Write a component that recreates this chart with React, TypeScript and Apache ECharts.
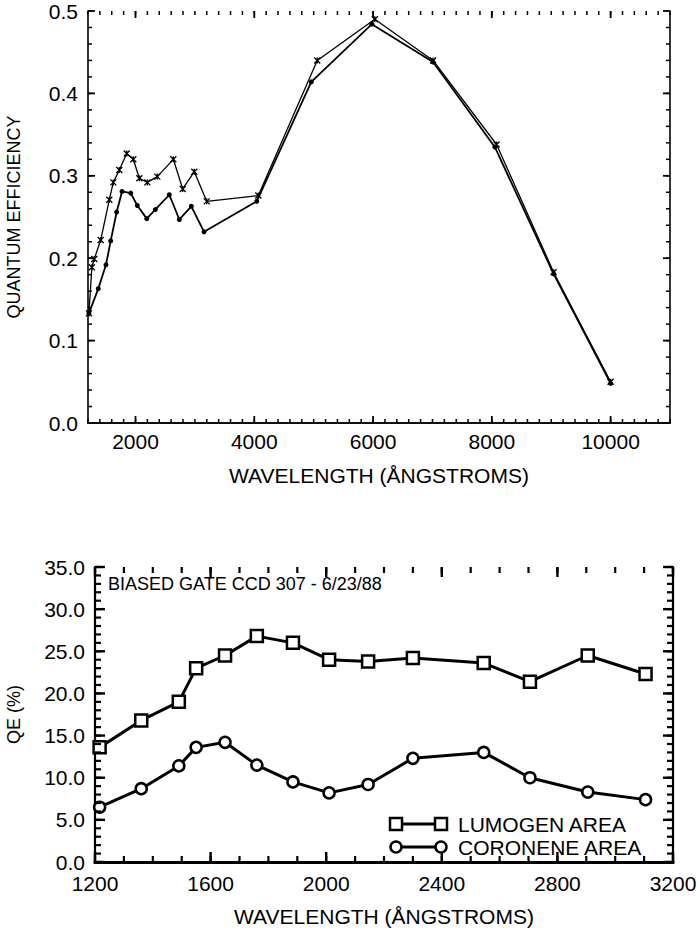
import React, { useEffect, useRef } from "react";
import * as echarts from "echarts";

// ---------- Top panel data (quantum efficiency vs wavelength) ----------
const upperWavelengths = [1216, 1265, 1305, 1414, 1559, 1626, 1727, 1852, 1963, 2064, 2199, 2367, 2637, 2795, 2990, 3199, 4068, 5060, 6030, 7010, 8080, 9040, 10000];
const upperQE = [0.133, 0.189, 0.199, 0.222, 0.271, 0.292, 0.307, 0.327, 0.320, 0.297, 0.292, 0.299, 0.320, 0.284, 0.305, 0.269, 0.276, 0.440, 0.490, 0.440, 0.338, 0.183, 0.050];
const lowerWavelengths = [1216, 1373, 1503, 1582, 1683, 1773, 1919, 2030, 2189, 2333, 2569, 2738, 2940, 3154, 4041, 4960, 5980, 7010, 8050, 9040, 10000];
const lowerQE = [0.133, 0.163, 0.192, 0.221, 0.256, 0.281, 0.279, 0.264, 0.248, 0.259, 0.277, 0.247, 0.263, 0.232, 0.269, 0.414, 0.484, 0.438, 0.335, 0.181, 0.048];

// ---------- Bottom panel data (QE %) ----------
const ccdWavelengths = [1216, 1360, 1490, 1550, 1650, 1760, 1885, 2010, 2145, 2300, 2545, 2705, 2905, 3105];
const lumogenQE = [13.6, 16.8, 19.0, 23.0, 24.5, 26.8, 26.0, 24.0, 23.8, 24.2, 23.6, 21.4, 24.5, 22.3];
const coroneneQE = [6.5, 8.7, 11.4, 13.6, 14.2, 11.5, 9.5, 8.2, 9.2, 12.3, 13.0, 10.0, 8.3, 7.4];

// ---------- Axis scales and tick steps ----------
const topXRange = [1200, 11000];
const topYRange = [0, 0.5];
const botXRange = [1200, 3200];
const botYRange = [0, 35];
const topXMajor = [2000, 4000, 6000, 8000, 10000];
const topXMinorStep = 200;
const topYMajorStep = 0.1;
const topYMinorStep = 0.02;
const botXMajorStep = 400;
const botXMinorStep = 100;
const botYMajorStep = 5;
const botYMinorStep = 1;

const FONT = "'Liberation Sans', Arial, Helvetica, sans-serif";
const FS = 21;
const FS_SMALL = 18;

const zip = (xs: number[], ys: number[]) => xs.map((x, i) => [x, ys[i]]);

// list of tick values from lo to hi by step (axis decoration only)
const steps = (lo: number, hi: number, step: number) => {
  const out: number[] = [];
  const n = Math.round((hi - lo) / step);
  for (let i = 0; i <= n; i++) out.push(Math.round((lo + i * step) * 1e6) / 1e6);
  return out;
};

// tick rows: [value, isY (0/1), length, width]
const buildTicks = (
  xMinor: number[], xMajor: number[], yMinor: number[], yMajor: number[],
  minorLen: number, majorLen: number, minorW: number, majorW: number
) => [
  ...xMinor.map((v) => [v, 0, minorLen, minorW]),
  ...xMajor.map((v) => [v, 0, majorLen, majorW]),
  ...yMinor.map((v) => [v, 1, minorLen, minorW]),
  ...yMajor.map((v) => [v, 1, majorLen, majorW]),
];

const tickRenderer = (xMin: number, yMin: number) => (params: any, api: any) => {
  const v = api.value(0);
  const isY = api.value(1);
  const len = api.value(2);
  const w = api.value(3);
  const cs = params.coordSys;
  const style = { stroke: "#000", lineWidth: w, fill: "none" };
  if (!isY) {
    const px = api.coord([v, yMin])[0];
    return {
      type: "group",
      children: [
        { type: "line", shape: { x1: px, y1: cs.y + cs.height, x2: px, y2: cs.y + cs.height - len }, style },
        { type: "line", shape: { x1: px, y1: cs.y, x2: px, y2: cs.y + len }, style },
      ],
    };
  }
  const py = api.coord([xMin, v])[1];
  return {
    type: "group",
    children: [
      { type: "line", shape: { x1: cs.x, y1: py, x2: cs.x + len, y2: py }, style },
      { type: "line", shape: { x1: cs.x + cs.width, y1: py, x2: cs.x + cs.width - len, y2: py }, style },
    ],
  };
};

export default function App() {
  const ref = useRef<HTMLDivElement>(null);

  useEffect(() => {
    if (!ref.current) return;
    const chart = echarts.init(ref.current, null, { renderer: "svg" });

    const txt = { color: "#000", fontFamily: FONT, fontSize: FS };
    const txtSmall = { color: "#000", fontFamily: FONT, fontSize: FS_SMALL };
    const gridBase = { outerBoundsMode: "none", containLabel: false, show: false };
    const G0 = { ...gridBase, left: 88, top: 11, width: 582, height: 412 };
    const G1 = { ...gridBase, left: 95, top: 567, width: 578, height: 295 };

    const noTick = { show: false };
    const noLabel = { show: false };
    const line0 = { show: true, lineStyle: { color: "#000", width: 1.6 } };
    const line1x = { show: true, lineStyle: { color: "#000", width: 3 } };
    const line1y = { show: true, lineStyle: { color: "#000", width: 2.2 } };

    const topTicks = buildTicks(
      steps(topXRange[0], topXRange[1], topXMinorStep), topXMajor,
      steps(topYRange[0], topYRange[1], topYMinorStep), steps(topYRange[0], topYRange[1], topYMajorStep),
      4, 7, 1.5, 1.8
    );
    const botTicks = buildTicks(
      steps(botXRange[0], botXRange[1], botXMinorStep), steps(botXRange[0], botXRange[1], botXMajorStep),
      steps(botYRange[0], botYRange[1], botYMinorStep), steps(botYRange[0], botYRange[1], botYMajorStep),
      6, 10, 2.2, 2.4
    );

    const option: any = {
      animation: false,
      backgroundColor: "#fff",
      grid: [G0, G1],
      xAxis: [
        {
          type: "value",
          gridIndex: 0,
          position: "bottom",
          min: topXRange[0],
          max: topXRange[1],
          interval: topXMinorStep,
          splitLine: { show: false },
          axisLine: line0,
          axisTick: noTick,
          axisLabel: {
            ...txt,
            show: true,
            margin: 8,
            formatter: (v: number) => (topXMajor.includes(v) ? String(v) : ""),
          },
          name: "WAVELENGTH (ÅNGSTROMS)",
          nameLocation: "middle",
          nameGap: 42,
          nameTextStyle: txt,
        },
        {
          type: "value",
          gridIndex: 0,
          position: "top",
          min: topXRange[0],
          max: topXRange[1],
          splitLine: { show: false },
          axisLine: line0,
          axisTick: noTick,
          axisLabel: noLabel,
        },
        {
          type: "value",
          gridIndex: 1,
          position: "bottom",
          min: botXRange[0],
          max: botXRange[1],
          interval: botXMajorStep,
          splitLine: { show: false },
          axisLine: line1x,
          axisTick: noTick,
          axisLabel: { ...txt, show: true, margin: 11, formatter: (v: number) => String(v) },
          name: "WAVELENGTH (ÅNGSTROMS)",
          nameLocation: "middle",
          nameGap: 44,
          nameTextStyle: txt,
        },
        {
          type: "value",
          gridIndex: 1,
          position: "top",
          min: botXRange[0],
          max: botXRange[1],
          splitLine: { show: false },
          axisLine: line1x,
          axisTick: noTick,
          axisLabel: noLabel,
        },
      ],
      yAxis: [
        {
          type: "value",
          gridIndex: 0,
          position: "left",
          min: topYRange[0],
          max: topYRange[1],
          interval: topYMajorStep,
          splitLine: { show: false },
          axisLine: line0,
          axisTick: noTick,
          axisLabel: { ...txt, show: true, margin: 10, formatter: (v: number) => v.toFixed(1) },
          name: "QUANTUM EFFICIENCY",
          nameLocation: "middle",
          nameRotate: 90,
          nameGap: 65,
          nameTextStyle: txtSmall,
        },
        {
          type: "value",
          gridIndex: 0,
          position: "right",
          min: topYRange[0],
          max: topYRange[1],
          splitLine: { show: false },
          axisLine: line0,
          axisTick: noTick,
          axisLabel: noLabel,
        },
        {
          type: "value",
          gridIndex: 1,
          position: "left",
          min: botYRange[0],
          max: botYRange[1],
          interval: botYMajorStep,
          splitLine: { show: false },
          axisLine: line1y,
          axisTick: noTick,
          axisLabel: { ...txt, show: true, margin: 10, formatter: (v: number) => v.toFixed(1) },
          name: "QE (%)",
          nameLocation: "middle",
          nameRotate: 90,
          nameGap: 72,
          nameTextStyle: txtSmall,
        },
        {
          type: "value",
          gridIndex: 1,
          position: "right",
          min: botYRange[0],
          max: botYRange[1],
          splitLine: { show: false },
          axisLine: line1y,
          axisTick: noTick,
          axisLabel: noLabel,
        },
      ],
      series: [
        {
          name: "top-ticks",
          type: "custom",
          xAxisIndex: 0,
          yAxisIndex: 0,
          data: topTicks,
          renderItem: tickRenderer(topXRange[0], topYRange[0]),
          clip: false,
          silent: true,
          z: 5,
        },
        {
          name: "bottom-ticks",
          type: "custom",
          xAxisIndex: 2,
          yAxisIndex: 2,
          data: botTicks,
          renderItem: tickRenderer(botXRange[0], botYRange[0]),
          clip: false,
          silent: true,
          z: 5,
        },
        {
          name: "Upper",
          type: "line",
          xAxisIndex: 0,
          yAxisIndex: 0,
          data: zip(upperWavelengths, upperQE),
          symbol: "path://M0,0L10,10M10,0L0,10M5,0L5,10",
          symbolSize: 6,
          showAllSymbol: true,
          lineStyle: { color: "#000", width: 1.3 },
          itemStyle: { color: "#000", borderColor: "#000", borderWidth: 1.3 },
        },
        {
          name: "Lower",
          type: "line",
          xAxisIndex: 0,
          yAxisIndex: 0,
          data: zip(lowerWavelengths, lowerQE),
          symbol: "circle",
          symbolSize: 5,
          showAllSymbol: true,
          lineStyle: { color: "#000", width: 1.8 },
          itemStyle: { color: "#000" },
        },
        {
          name: "LUMOGEN AREA",
          type: "line",
          xAxisIndex: 2,
          yAxisIndex: 2,
          data: zip(ccdWavelengths, lumogenQE),
          symbol: "rect",
          symbolSize: 12,
          showAllSymbol: true,
          lineStyle: { color: "#000", width: 3 },
          itemStyle: { color: "#fff", borderColor: "#000", borderWidth: 2.5 },
        },
        {
          name: "CORONENE AREA",
          type: "line",
          xAxisIndex: 2,
          yAxisIndex: 2,
          data: zip(ccdWavelengths, coroneneQE),
          symbol: "circle",
          symbolSize: 11,
          showAllSymbol: true,
          lineStyle: { color: "#000", width: 3 },
          itemStyle: { color: "#fff", borderColor: "#000", borderWidth: 2.5 },
        },
      ],
      graphic: [
        {
          type: "text",
          x: 108,
          y: 584,
          style: { text: "BIASED GATE CCD 307 - 6/23/88", fill: "#000", font: `${FS_SMALL}px ${FONT}`, verticalAlign: "middle" },
        },
        // legend: lumogen
        { type: "line", shape: { x1: 396, y1: 824, x2: 441, y2: 824 }, style: { stroke: "#000", lineWidth: 3 } },
        { type: "rect", shape: { x: 390, y: 818, width: 12, height: 12 }, style: { fill: "#fff", stroke: "#000", lineWidth: 2.5 } },
        { type: "rect", shape: { x: 435, y: 818, width: 12, height: 12 }, style: { fill: "#fff", stroke: "#000", lineWidth: 2.5 } },
        {
          type: "text",
          x: 458,
          y: 824,
          style: { text: "LUMOGEN AREA", fill: "#000", font: `${FS}px ${FONT}`, verticalAlign: "middle" },
        },
        // legend: coronene
        { type: "line", shape: { x1: 396, y1: 847, x2: 441, y2: 847 }, style: { stroke: "#000", lineWidth: 3 } },
        { type: "circle", shape: { cx: 396, cy: 847, r: 5.5 }, style: { fill: "#fff", stroke: "#000", lineWidth: 2.5 } },
        { type: "circle", shape: { cx: 441, cy: 847, r: 5.5 }, style: { fill: "#fff", stroke: "#000", lineWidth: 2.5 } },
        {
          type: "text",
          x: 458,
          y: 847,
          style: { text: "CORONENE AREA", fill: "#000", font: `${FS}px ${FONT}`, verticalAlign: "middle" },
        },
      ],
    };

    chart.setOption(option);
    return () => chart.dispose();
  }, []);

  return (
    <div
      ref={ref}
      style={{ position: "fixed", left: 0, top: 0, width: 697, height: 952, background: "#fff" }}
    />
  );
}
